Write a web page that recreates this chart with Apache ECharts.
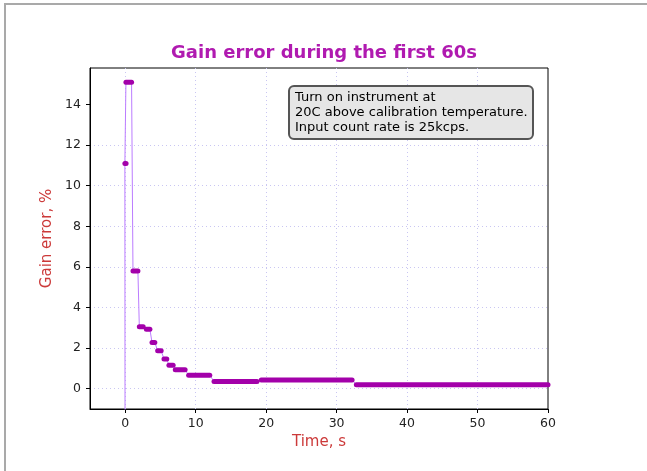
<!DOCTYPE html>
<html>
<head>
<meta charset="utf-8">
<script src="https://cdn.jsdelivr.net/npm/echarts@6/dist/echarts.min.js"></script>
<style>
  html, body { margin: 0; padding: 0; background: #fff; }
  #chart_box { width: 647px; height: 471px; }
</style>
</head>
<body>
<div id="chart_box"></div>
<script>
// first reading is far below the plot, the line comes up from there
let firstTime = 0
let firstValue = -20
// horizontal steps of the gain error (s, s, %)
let stepStart = [-0.05, 0.1, 1.1, 2.0, 3.0, 3.8, 4.6, 5.5, 6.2, 7.1, 9.0, 12.6, 19.3, 32.8]
let stepEnd   = [0.12, 0.9, 1.8, 2.55, 3.5, 4.2, 5.1, 5.9, 6.8, 8.5, 12.0, 18.7, 32.2, 60]
let stepLevel = [11.1, 15.1, 5.8, 3.05, 2.93, 2.28, 1.87, 1.46, 1.15, 0.93, 0.66, 0.36, 0.43, 0.2]
let xTicks = [0, 10, 20, 30, 40, 50, 60]
let yTicks = [0, 2, 4, 6, 8, 10, 12, 14]

let myChart = echarts.init(document.getElementById('chart_box'))

let thinData = [[firstTime, firstValue]]
stepLevel.forEach((lv, i) => {
    thinData.push([stepStart[i], lv])
    thinData.push([stepEnd[i], lv])
})

let gridDots = {
    show: true,
    showMaxLine: false,
    lineStyle: { color: '#c9c6f2', type: [1, 3], width: 1 }
}

let series = [
    {
        name: 'trace',
        type: 'line',
        data: thinData,
        symbol: 'none',
        clip: true,
        z: 2,
        lineStyle: { color: '#bb7cff', width: 1 }
    }
]
// thick marker bands on each step
stepLevel.forEach((lv, i) => {
    series.push({
        type: 'line',
        data: [[stepStart[i], lv], [stepEnd[i], lv]],
        symbol: 'none',
        clip: true,
        z: 3,
        lineStyle: { color: '#a300aa', width: 5, cap: 'round' }
    })
})

let option = {
    animation: false,
    title: [
        {
            text: 'Gain error during the first 60s',
            left: 319,
            textAlign: 'center',
            top: 39,
            textStyle: { color: '#b01ab0', fontSize: 18, fontWeight: 'bold', fontFamily: 'DejaVu Sans' }
        },
        {
            text: 'Turn on instrument at\n20C above calibration temperature.\nInput count rate is 25kcps.',
            left: 289,
            top: 86,
            padding: [4, 6, 4, 6],
            backgroundColor: '#e6e6e6',
            borderColor: '#555555',
            borderWidth: 2,
            borderRadius: 5,
            textStyle: { color: '#000', fontSize: 13, fontWeight: 'normal', fontFamily: 'DejaVu Sans', lineHeight: 15 }
        }
    ],
    graphic: [
        {
            type: 'rect',
            shape: { x: 5, y: 4, width: 700, height: 520 },
            style: { fill: 'none', stroke: '#a9a9a9', lineWidth: 2 },
            silent: true
        }
    ],
    grid: {
        left: 90,
        top: 68,
        right: 99,
        bottom: 62,
        show: true,
        borderColor: '#000',
        borderWidth: 1,
        containLabel: false
    },
    xAxis: {
        type: 'value',
        min: -5,
        max: 60,
        name: 'Time, s',
        nameLocation: 'middle',
        nameGap: 26,
        nameTextStyle: { color: '#cc3a3a', fontSize: 15, fontFamily: 'DejaVu Sans' },
        axisLine: { show: true, onZero: false, lineStyle: { color: '#000' } },
        axisTick: { show: true, length: 4, customValues: xTicks, lineStyle: { color: '#000' } },
        axisLabel: { customValues: xTicks, color: '#222', fontSize: 12.5, fontFamily: 'DejaVu Sans', margin: 8 },
        splitLine: gridDots
    },
    yAxis: {
        type: 'value',
        min: -1,
        max: 15.8,
        name: 'Gain error, %',
        nameLocation: 'middle',
        nameGap: 33,
        nameTextStyle: { color: '#cc3a3a', fontSize: 15, fontFamily: 'DejaVu Sans' },
        axisLine: { show: true, onZero: false, lineStyle: { color: '#000' } },
        axisTick: { show: true, length: 4, customValues: yTicks, lineStyle: { color: '#000' } },
        axisLabel: { customValues: yTicks, color: '#222', fontSize: 12.5, fontFamily: 'DejaVu Sans', margin: 9 },
        splitLine: gridDots
    },
    series: series
}
myChart.setOption(option)
</script>
</body>
</html>
